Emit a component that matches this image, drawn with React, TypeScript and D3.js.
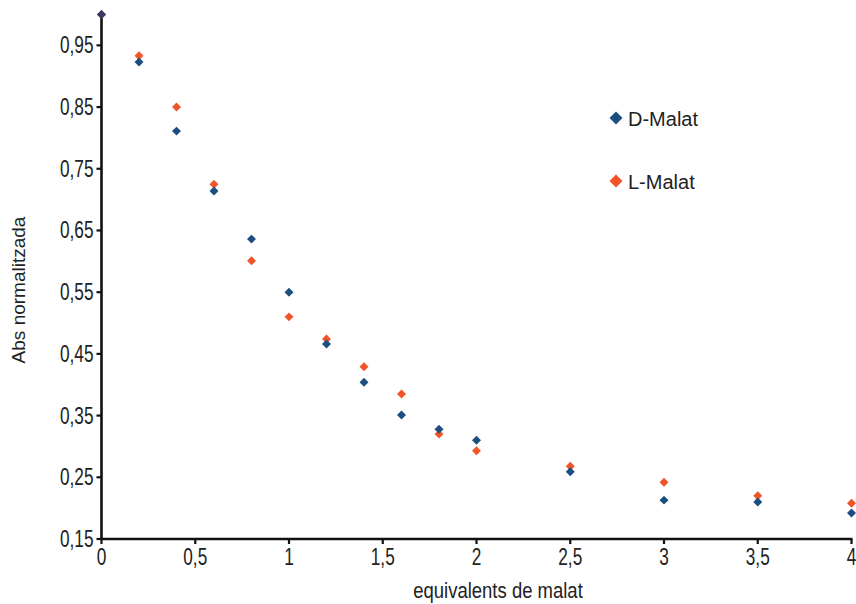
import React from "react";
import * as d3 from "d3";

const xValues = [0, 0.2, 0.4, 0.6, 0.8, 1.0, 1.2, 1.4, 1.6, 1.8, 2.0, 2.5, 3.0, 3.5, 4.0];
const dMalat = [1.0, 0.923, 0.811, 0.714, 0.636, 0.55, 0.466, 0.404, 0.351, 0.328, 0.31, 0.259, 0.213, 0.21, 0.192];
const lMalat = [1.0, 0.933, 0.85, 0.725, 0.601, 0.51, 0.474, 0.429, 0.385, 0.32, 0.293, 0.268, 0.242, 0.22, 0.208];
const xTicks = [0, 0.5, 1, 1.5, 2, 2.5, 3, 3.5, 4];
const yTicks = [0.15, 0.25, 0.35, 0.45, 0.55, 0.65, 0.75, 0.85, 0.95];
const seriesNames = ["D-Malat", "L-Malat"];
const xTitle = "equivalents de malat";
const yTitle = "Abs normalitzada";

const BLUE = "#1c4e80";
const ORANGE = "#f0552a";
const FONT = "'Liberation Sans', Arial, sans-serif";

const fmt = (v: number) => String(+v.toFixed(2)).replace(".", ",");

export default function App() {
  const x = d3.scaleLinear().domain([0, 4]).range([101.5, 851.5]);
  const y = d3.scaleLinear().domain([0.15, 1.0]).range([539, 14.5]);
  const small = d3.symbol(d3.symbolSquare, 40)()!;
  const big = d3.symbol(d3.symbolSquare, 85)()!;

  const series = [
    { name: seriesNames[1], values: lMalat, color: ORANGE },
    { name: seriesNames[0], values: dMalat, color: BLUE },
  ];

  return (
    <svg width={856} height={604} style={{ position: "absolute", left: 0, top: 0, background: "#fff" }} fontFamily={FONT}>
      <rect width={856} height={604} fill="#fff" />
      {/* axes */}
      <line x1={x(0)} x2={x(4) + 1} y1={y(0.15)} y2={y(0.15)} stroke="#111" strokeWidth={2.6} />
      <line x1={x(0)} x2={x(0)} y1={y(1.0)} y2={y(0.15) + 1} stroke="#111" strokeWidth={2.6} />
      {yTicks.map((t) => (
        <g key={"y" + t}>
          <line x1={x(0) - 5} x2={x(0)} y1={y(t)} y2={y(t)} stroke="#111" strokeWidth={2.2} />
          <text
            transform={`translate(${x(0) - 8},${y(t) + 8}) scale(0.75,1)`}
            textAnchor="end"
            fontSize={23}
            fill="#222"
          >
            {fmt(t)}
          </text>
        </g>
      ))}
      {xTicks.map((t) => (
        <g key={"x" + t}>
          <line x1={x(t)} x2={x(t)} y1={y(0.15)} y2={y(0.15) + 5} stroke="#111" strokeWidth={2.2} />
          <text
            transform={`translate(${x(t)},${y(0.15) + 26}) scale(0.75,1)`}
            textAnchor="middle"
            fontSize={23}
            fill="#222"
          >
            {fmt(t)}
          </text>
        </g>
      ))}
      {/* titles */}
      <text
        transform={`translate(${498},${598}) scale(1,1.15)`}
        textAnchor="middle"
        fontSize={18.5}
        fill="#222"
      >
        {xTitle}
      </text>
      <text
        transform={`translate(25,290) rotate(-90)`}
        textAnchor="middle"
        fontSize={19}
        fill="#222"
      >
        {yTitle}
      </text>
      {/* points */}
      {series.map((s) =>
        s.values.map((v, i) => (
          <path
            key={s.name + i}
            d={small}
            transform={`translate(${x(xValues[i])},${y(v)}) rotate(45)`}
            fill={i === 0 ? "#3a3b5e" : s.color}
          />
        ))
      )}
      {/* legend */}
      {[seriesNames[0], seriesNames[1]].map((n, i) => (
        <g key={n} transform={`translate(616,${118 + i * 63})`}>
          <path d={big} transform="rotate(45)" fill={i === 0 ? BLUE : ORANGE} />
          <text x={12} y={7.5} fontSize={20} fill="#222">
            {n}
          </text>
        </g>
      ))}
    </svg>
  );
}
